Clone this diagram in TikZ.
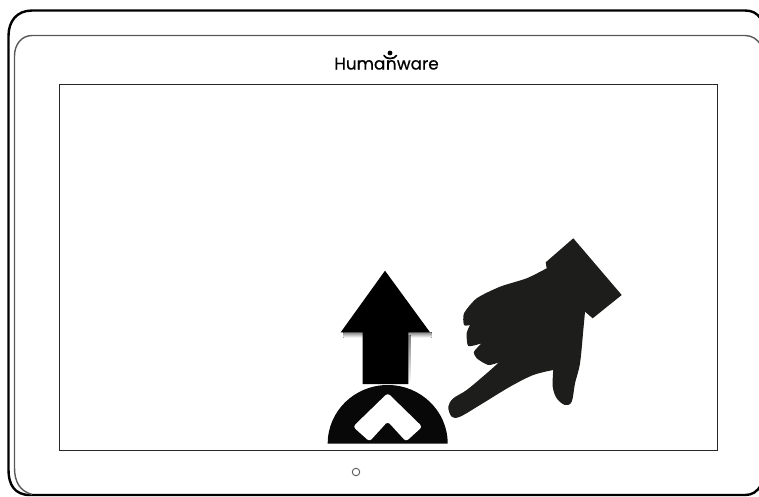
\documentclass[tikz,border=0pt]{standalone}
\usepackage{fontspec}
\setmainfont{Poppins}[FakeBold=0.6]
\definecolor{ink}{HTML}{1D1D1B}
\definecolor{shade}{HTML}{8FA6C4}
\tikzset{
  outerframe/.style={draw=black,line width=2.4pt},
  innerframe/.style={draw=black!65,line width=1.4pt},
  screenframe/.style={draw=black!85,line width=1pt},
  logotext/.style={font=\fontsize{16.8}{17}\selectfont,inner sep=0pt,text=black},
}
\begin{document}
\begin{tikzpicture}[x=1pt,y=-1pt]
\useasboundingbox (0,0) rectangle (759,496);
\fill[white] (0,0) rectangle (759,496);
% frames
\draw[outerframe] (761,19) .. controls (757,13) and (752,10.5) .. (745,10.5) -- (32,10.5)
  .. controls (17,10.5) and (8.5,21) .. (8.5,36) -- (8.5,470)
  .. controls (8.5,485) and (15,495) .. (30,495) -- (745,495)
  .. controls (752,495) and (757,492) .. (761,485);
\draw[innerframe] (761,45) .. controls (757,39) and (752,35.5) .. (745,35.5) -- (32,35.5)
  .. controls (22,35.5) and (14.5,44) .. (14.5,56) -- (14.5,468)
  .. controls (14.5,482) and (20,491) .. (32,494.5);
\node[screenframe,minimum width=658pt,minimum height=366pt,inner sep=0pt,anchor=north west] (screen) at (59,84) {};
% logo
\node[logotext,anchor=base] (logo) at (386.5,69.5) {Huma\kern0.6pt n\kern0.2pt ware};
\fill[black] (390,53) circle (2.4);
\draw[black,line width=1.7pt,line cap=round] (384,55.5) .. controls (385.5,59.5) and (394.5,59.5) .. (396.5,55.5);
% home button
\node[draw=black!65,circle,line width=0.9pt,minimum size=7.5pt,inner sep=0pt] (homebtn) at (356,472) {};
% arrow shadow
\fill[shade] (343.3,332) rectangle (431.7,337.5);
\fill[shade] (406,335) rectangle (410.7,383);
% arrow
\fill[black] (385,270.7) -- (430,332.3) -- (408.3,332.3) -- (408.3,384) -- (362.7,384) -- (362.7,332.3) -- (340.7,332.3) -- cycle;
% half disc button
\fill[black!97] (327.7,443.5) arc[start angle=180,end angle=360,x radius=60,y radius=58.5] -- cycle;
\fill[white,rounded corners=3pt] (353,426.7) -- (387.7,393) -- (422.3,426.7) -- (406,441.5) -- (387.7,421.5) -- (369.5,441.5) -- cycle;
% hand
\fill[ink] (573.3,238.3) -- (621.7,295) -- (592.7,318.3) -- (585,311.7)
 -- plot[smooth,tension=0.55] coordinates {(585,311.7) (583.3,330) (580,363.3) (575,383.3) (571.7,401.7) (565,405) (556.7,398.3) (552.7,386.7) (553.3,370)}
 -- plot[smooth,tension=0.55] coordinates {(553.3,370) (533.3,375) (510,386.7) (480,405) (460,416.7) (451.7,416.7) (448.3,406.7) (453.3,398.3) (466.7,390) (486.7,373.3) (499,362.3)}
 -- plot[smooth,tension=0.4] coordinates {(499,362.3) (488.3,365) (476.7,358.3) (474,351.7) (481.7,343.3)}
 -- plot[smooth,tension=0.4] coordinates {(481.7,343.3) (468.3,346) (466.7,333.3) (470,325)}
 -- plot[smooth,tension=0.4] coordinates {(470,325) (464,325) (464,313.3) (476.7,298.3) (500,286.7) (526.7,278.3) (546.7,268.3)}
 -- (545.7,262.3) -- cycle;
\end{tikzpicture}
\end{document}
